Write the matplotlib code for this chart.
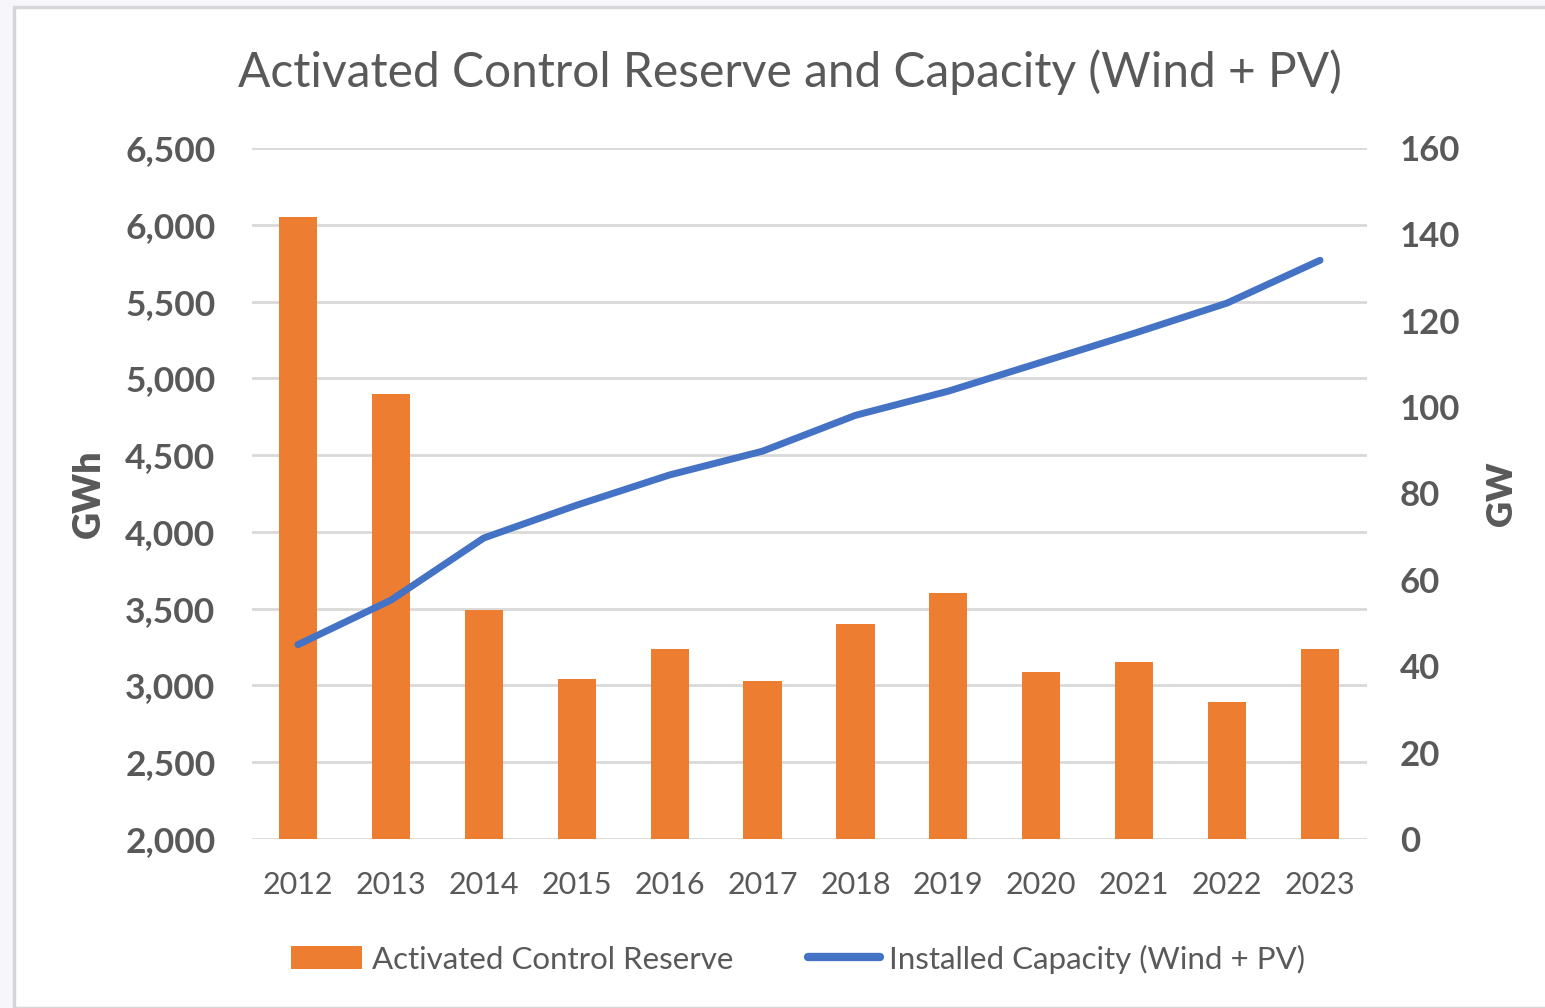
import matplotlib.pyplot as plt
from matplotlib.patches import Rectangle
from matplotlib.lines import Line2D
from matplotlib.ticker import FuncFormatter

years = ['2012', '2013', '2014', '2015', '2016', '2017', '2018', '2019', '2020', '2021', '2022', '2023']
reserve_gwh = [6050, 4900, 3490, 3040, 3240, 3030, 3400, 3600, 3090, 3150, 2890, 3240]
capacity_gw = [45, 55.3, 69.7, 77.3, 84.3, 89.8, 98.1, 103.7, 110.4, 117.1, 124.1, 134.0]

orange = '#ED7D31'
blue = '#4472C4'
txt = '#595959'
grid = '#D9D9D9'

plt.rcParams['font.family'] = ['Lato', 'DejaVu Sans']

W, H = 1545, 1008
fig = plt.figure(figsize=(W / 100, H / 100), dpi=100)
fig.patch.set_facecolor('#F6F6FB')
fig.patches.append(Rectangle((14 / W, 0), 1.0, 1 - 7 / H, transform=fig.transFigure,
                             facecolor='white', edgecolor='#D6D6D9', linewidth=2.5, zorder=-10))

ax1 = fig.add_axes([251.5 / W, 1 - 839 / H, 1115 / W, 691 / H])
ax1.set_facecolor('none')
x = list(range(len(years)))
ax1.bar(x, reserve_gwh, width=0.41, color=orange, zorder=2)
ax1.set_ylim(2000, 6500)
ax1.set_xlim(-0.5, len(years) - 0.5)
ax1.set_yticks(range(2000, 6501, 500))
ax1.yaxis.set_major_formatter(FuncFormatter(lambda v, p: f'{int(v):,}'))
ax1.grid(axis='y', color=grid, linewidth=2, zorder=0)
ax1.set_axisbelow(True)
for s in ax1.spines.values():
    s.set_visible(False)
ax1.tick_params(length=0)
ax1.tick_params(axis='y', labelsize=25.5, labelcolor=txt, pad=26)
ax1.tick_params(axis='x', labelsize=22, labelcolor=txt, pad=23)
for lab in ax1.get_yticklabels():
    lab.set_fontweight('bold')
ax1.set_xticks(x)
ax1.set_xticklabels(years)
ax1.set_ylabel('GWh', fontsize=27, fontweight='heavy', color=txt, labelpad=14)

ax2 = ax1.twinx()
ax2.plot(x, capacity_gw, color=blue, linewidth=5, solid_capstyle='round', zorder=3)
ax2.set_ylim(0, 160)
ax2.set_yticks(range(0, 161, 20))
for s in ax2.spines.values():
    s.set_visible(False)
ax2.tick_params(length=0, labelsize=25, labelcolor=txt, pad=24)
for lab in ax2.get_yticklabels():
    lab.set_fontweight('bold')
ax2.set_ylabel('GW', fontsize=26, fontweight='heavy', color=txt, labelpad=18)

fig.text(790 / W, 1 - 72 / H, 'Activated Control Reserve and Capacity (Wind + PV)',
         ha='center', va='center', fontsize=34.5, color=txt)

handles = [Rectangle((0, 0), 1, 1, facecolor=orange),
           Line2D([0], [0], color=blue, linewidth=6, solid_capstyle='round')]
fig.legend(handles, ['Activated Control Reserve', 'Installed Capacity (Wind + PV)'],
           loc='center', bbox_to_anchor=(798 / W, 1 - 959 / H), ncol=2, frameon=False,
           fontsize=22.5, labelcolor=txt, handlelength=2.3, handleheight=0.75,
           handletextpad=0.3, columnspacing=2.4)

fig.savefig('out.png', dpi=100)
